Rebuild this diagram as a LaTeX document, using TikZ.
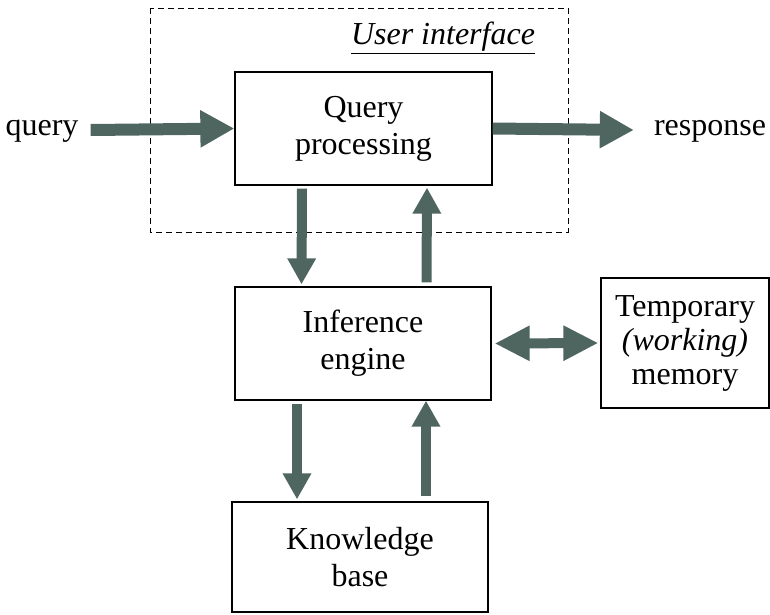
\documentclass[tikz,border=0pt]{standalone}
\usepackage{fontspec}
\setmainfont{Liberation Serif}
\newfontfamily\tnr{Liberation Serif}
\usetikzlibrary{arrows.meta,calc}
\definecolor{arr}{RGB}{79,101,96}
\begin{document}
\begin{tikzpicture}[x=1pt,y=-1pt,
  box/.style={draw, line width=1.3pt, inner sep=0pt, align=center, font=\tnr\fontsize{32}{37}\selectfont},
  lbl/.style={inner sep=0pt, font=\tnr\fontsize{32}{37}\selectfont},
  harrow/.style={draw=arr, line width=12pt, -{Triangle[length=34pt,width=35pt]}},
  varrow/.style={draw=arr, line width=10pt, -{Triangle[length=26pt,width=27pt]}},
  darrow/.style={draw=arr, line width=10pt, {Triangle[length=35pt,width=33pt]}-{Triangle[length=35pt,width=33pt]}},
]
\useasboundingbox (0,0) rectangle (770,614);
\draw[dashed, dash pattern=on 6pt off 4pt, line width=1pt] (150,8) rectangle (568,232);
\node[lbl, font=\tnr\fontsize{32}{37}\selectfont\itshape] (ui) at (443,38) {\underline{User interface}};
\node[box, minimum width=257pt, minimum height=113pt] (qp) at (363.5,128.5) {Query\\processing};
\node[box, minimum width=256pt, minimum height=113pt] (ie) at (363,343.5) {Inference\\engine};
\node[box, minimum width=256pt, minimum height=110pt] (kb) at (360,557) {Knowledge\\base};
\node[box, minimum width=168pt, minimum height=130pt, font=\tnr\fontsize{32}{34}\selectfont] (tm) at (685,343) {Temporary\\\textit{(working)}\\memory};
\node[lbl] (q) at (42,131) {query};
\node[lbl] (r) at (710,131) {response};
\draw[harrow] ($(q.east)+(12,-1)$) -- (qp.west);
\draw[harrow] (qp.east) -- ($(r.west)+(-20,-1)$);
\draw[varrow] ($(qp.south)+(-61.5,3)$) -- ($(ie.north)+(-61.5,-2)$);
\draw[varrow] ($(ie.north)+(63.5,-4)$) -- ($(qp.south)+(63.5,2)$);
\draw[varrow] ($(ie.south)+(-66,3)$) -- ($(kb.north)+(-63,-2)$);
\draw[varrow] ($(kb.north)+(66,-5)$) -- ($(ie.south)+(63,0)$);
\draw[darrow] ($(ie.east)+(3,0)$) -- ($(tm.west)+(-2,0)$);
\end{tikzpicture}
\end{document}
